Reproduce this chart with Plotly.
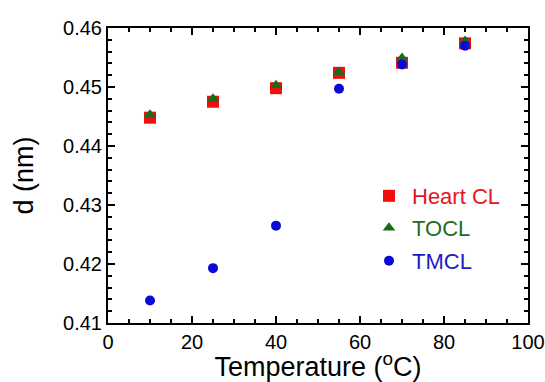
import plotly.graph_objects as go

temperature = [10, 25, 40, 55, 70, 85]
heart_cl = [0.4448, 0.4475, 0.4498, 0.4524, 0.4541, 0.4574]
tocl = [0.4453, 0.4480, 0.4503, 0.4525, 0.4549, 0.4578]
tmcl = [0.4138, 0.4193, 0.4265, 0.4497, 0.4538, 0.4570]

names = ["Heart CL", "TOCL", "TMCL"]
series = [heart_cl, tocl, tmcl]
marker_colors = ["#f50d0d", "#1a6b1a", "#0a0ad8"]
text_colors = ["#e8141c", "#236b23", "#1a1ac8"]
symbols = ["square", "triangle-up", "circle"]
sizes = [12, 11, 10]

FONT = "Liberation Sans, Arial, sans-serif"

fig = go.Figure()
legend_keys = ["legend", "legend2", "legend3"]
for i, (nm, ys) in enumerate(zip(names, series)):
    fig.add_trace(go.Scatter(
        x=temperature, y=ys, mode="markers", name=nm,
        marker=dict(symbol=symbols[i], size=sizes[i], color=marker_colors[i], line=dict(width=0)),
        legend=legend_keys[i],
    ))

W, H = 545, 382
L, R, T, B = 108, 17, 28, 59
pw, ph = W - L - R, H - T - B

def px_to_paper(px, py):
    return (px - L) / pw, (H - B - py) / ph

legend_centers = [196, 228, 261]
layout_legends = {}
for i, key in enumerate(legend_keys):
    lx, ly = px_to_paper(366, legend_centers[i])
    layout_legends[key] = dict(
        x=lx, y=ly, xanchor="left", yanchor="middle",
        bgcolor="rgba(0,0,0,0)", borderwidth=0,
        font=dict(family=FONT, size=22, color=text_colors[i]),
        itemwidth=36,
    )

fig.update_layout(
    width=W, height=H,
    margin=dict(l=L, r=R, t=T, b=B, pad=0, autoexpand=False),
    paper_bgcolor="white", plot_bgcolor="white",
    font=dict(family=FONT, color="black"),
    showlegend=True,
    **layout_legends,
)

fig.update_xaxes(
    range=[0, 100], tickvals=[0, 20, 40, 60, 80, 100],
    ticks="inside", ticklen=7, tickwidth=1.5, tickcolor="black",
    minor=dict(tickvals=[v for v in range(5, 100, 5) if v % 20 != 0], ticks="inside", ticklen=4, tickwidth=1.5, tickcolor="black"),
    showline=True, linecolor="black", linewidth=2, mirror="ticks",
    showgrid=False, zeroline=False, automargin=False,
    tickfont=dict(family=FONT, size=20, color="black"),
    title=dict(text="Temperature (<sup>o</sup>C)", font=dict(family=FONT, size=27, color="black"), standoff=2),
)
fig.update_yaxes(
    range=[0.41, 0.46], tickvals=[0.41, 0.42, 0.43, 0.44, 0.45, 0.46],
    tickformat=".2f",
    ticks="inside", ticklen=7, tickwidth=1.5, tickcolor="black",
    minor=dict(dtick=0.002, ticks="inside", ticklen=4, tickwidth=1.5, tickcolor="black"),
    showline=True, linecolor="black", linewidth=2, mirror="ticks",
    showgrid=False, zeroline=False, automargin=False,
    tickfont=dict(family=FONT, size=20, color="black"),
    title=dict(text="d (nm)", font=dict(family=FONT, size=27, color="black"), standoff=22),
)

fig.write_html("out.html")
